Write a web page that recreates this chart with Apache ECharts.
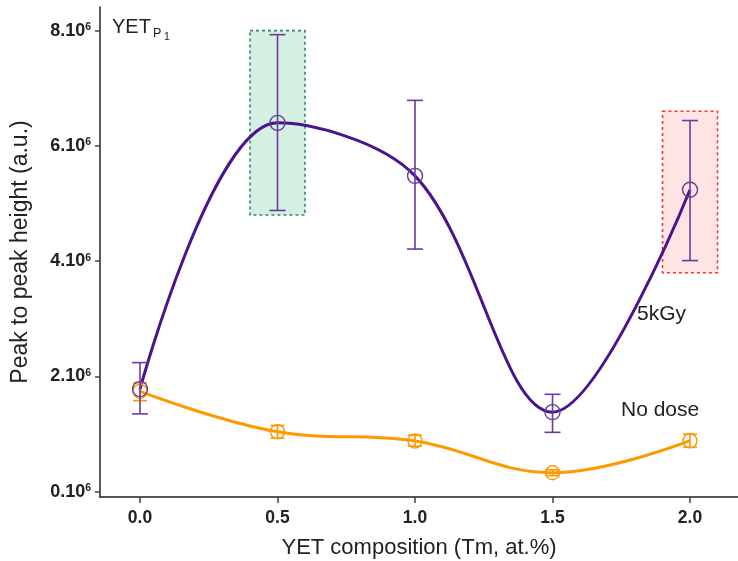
<!DOCTYPE html>
<html>
<head>
<meta charset="utf-8">
<script src="https://cdn.jsdelivr.net/npm/echarts@6/dist/echarts.min.js"></script>
<style>html,body{margin:0;padding:0;background:#fff;}#c{width:738px;height:561px;}</style>
</head>
<body>
<div id="c"></div>
<script>
// ---- data ----
var xVals = [0.0, 0.5, 1.0, 1.5, 2.0];
var dose5 = [1.78e6, 6.40e6, 5.48e6, 1.38e6, 5.24e6];
var dose5Low = [1.35e6, 4.88e6, 4.21e6, 1.03e6, 4.01e6];
var dose5High = [2.24e6, 7.93e6, 6.79e6, 1.69e6, 6.44e6];
var noDose = [1.74e6, 1.04e6, 0.88e6, 0.33e6, 0.885e6];
var noDoseLow = [1.58e6, 0.93e6, 0.79e6, 0.28e6, 0.77e6];
var noDoseHigh = [1.89e6, 1.15e6, 0.98e6, 0.38e6, 1.00e6];
var xTickVals = [0, 0.5, 1.0, 1.5, 2.0];
var xTickLabels = ['0.0', '0.5', '1.0', '1.5', '2.0'];
var yTickVals = [0, 2e6, 4e6, 6e6, 8e6];
var yTickLabels = ['0.10', '2.10', '4.10', '6.10', '8.10'];
var yTickExp = '6';
// highlight boxes: [xFrom, xTo, yFrom, yTo]
var greenBox = [0.4, 0.6, 4.8e6, 8.0e6];
var redBox = [1.9, 2.1, 3.8e6, 6.6e6];

var purpleLine = '#4B148C';
var purpleBar = '#6A3C9E';
var orange = '#FF9900';
var FONT = 'Liberation Sans, Arial, sans-serif';

function pairs(xs, ys) { return xs.map(function (x, i) { return [x, ys[i]]; }); }
function errData(xs, ys, lo, hi) { return xs.map(function (x, i) { return [x, lo[i], hi[i], ys[i]]; }); }

function errRender(color, capHalf, radius) {
  return function (params, api) {
    var x = api.value(0);
    var top = api.coord([x, api.value(2)]);
    var bot = api.coord([x, api.value(1)]);
    var mid = api.coord([x, api.value(3)]);
    var st = { stroke: color, lineWidth: 1.6, fill: null };
    return {
      type: 'group',
      children: [
        { type: 'line', shape: { x1: top[0], y1: top[1], x2: bot[0], y2: bot[1] }, style: st },
        { type: 'line', shape: { x1: top[0] - capHalf, y1: top[1], x2: top[0] + capHalf, y2: top[1] }, style: st },
        { type: 'line', shape: { x1: bot[0] - capHalf, y1: bot[1], x2: bot[0] + capHalf, y2: bot[1] }, style: st },
        { type: 'circle', shape: { cx: mid[0], cy: mid[1], r: radius }, style: { stroke: color, lineWidth: 1.4, fill: null } }
      ]
    };
  };
}

var chart = echarts.init(document.getElementById('c'), null, { renderer: 'canvas' });
chart.setOption({
  animation: false,
  backgroundColor: '#fff',
  grid: { left: 100, right: 0, top: 7, bottom: 64, containLabel: false, outerBoundsMode: 'none' },
  xAxis: {
    type: 'value', min: -0.1455, max: 2.1745,
    splitLine: { show: false },
    axisLine: { onZero: false, lineStyle: { color: '#222', width: 1.5 } },
    axisTick: { show: true, length: 6, lineStyle: { color: '#444', width: 1.5 }, customValues: xTickVals },
    axisLabel: {
      customValues: xTickVals, margin: 12,
      formatter: function (v) { var i = xTickVals.indexOf(v); return i >= 0 ? xTickLabels[i] : ''; },
      fontFamily: FONT, fontSize: 17.5, fontWeight: 'bold', color: '#222'
    },
    name: 'YET composition (Tm, at.%)', nameLocation: 'middle', nameGap: 40,
    nameTextStyle: { fontFamily: FONT, fontSize: 22, color: '#222' }
  },
  yAxis: {
    type: 'value', min: -0.092e6, max: 8.41e6,
    splitLine: { show: false },
    axisLine: { show: true, onZero: false, lineStyle: { color: '#222', width: 1.5 } },
    axisTick: { show: true, length: 5, lineStyle: { color: '#444', width: 1.5 }, customValues: yTickVals },
    axisLabel: {
      customValues: yTickVals, margin: 9,
      formatter: function (v) { var i = yTickVals.indexOf(v); return i >= 0 ? '{b|' + yTickLabels[i] + '}{s|' + yTickExp + '}' : ''; },
      rich: {
        b: { fontFamily: FONT, fontSize: 18, fontWeight: 'bold', color: '#222', lineHeight: 18 },
        s: { fontFamily: FONT, fontSize: 10.5, fontWeight: 'bold', color: '#222', verticalAlign: 'top', lineHeight: 18, padding: [0, 0, 8, 0] }
      }
    },
    name: 'Peak to peak height (a.u.)', nameLocation: 'middle', nameGap: 68, nameRotate: 90,
    nameTextStyle: { fontFamily: FONT, fontSize: 23, color: '#222' }
  },
  series: [
    {
      type: 'line', data: pairs(xVals, noDose), smooth: 0.4, showSymbol: false,
      lineStyle: { color: orange, width: 3 }, z: 2,
      markArea: {
        silent: true,
        data: [
          [{ coord: [greenBox[0], greenBox[3]], itemStyle: { color: 'rgba(150,220,185,0.42)', borderColor: '#2E8B57', borderWidth: 1.6, borderType: [3, 3] } },
           { coord: [greenBox[1], greenBox[2]] }],
          [{ coord: [redBox[0], redBox[3]], itemStyle: { color: 'rgba(255,190,190,0.42)', borderColor: '#FF3030', borderWidth: 1.6, borderType: [3, 3] } },
           { coord: [redBox[1], redBox[2]] }]
        ]
      }
    },
    {
      type: 'line', data: pairs(xVals, dose5), smooth: 0.35, showSymbol: false,
      lineStyle: { color: purpleLine, width: 3 }, z: 3
    },
    {
      type: 'custom', data: errData(xVals, noDose, noDoseLow, noDoseHigh),
      renderItem: errRender(orange, 7, 7), z: 4
    },
    {
      type: 'custom', data: errData(xVals, dose5, dose5Low, dose5High),
      renderItem: errRender(purpleBar, 8, 7.5), z: 5
    }
  ],
  graphic: [
    { type: 'text', left: 112, top: 17, style: { text: 'YET', fontFamily: FONT, fontSize: 20, fill: '#222' } },
    { type: 'text', left: 153, top: 27, style: { text: 'P', fontFamily: FONT, fontSize: 12.5, fill: '#222' } },
    { type: 'text', left: 164, top: 32, style: { text: '1', fontFamily: FONT, fontSize: 10.5, fill: '#222' } },
    { type: 'text', left: 637, top: 304, style: { text: '5kGy', fontFamily: FONT, fontSize: 21, fill: '#222' } },
    { type: 'text', left: 621, top: 400, style: { text: 'No dose', fontFamily: FONT, fontSize: 21, fill: '#222' } }
  ]
});
</script>
</body>
</html>
